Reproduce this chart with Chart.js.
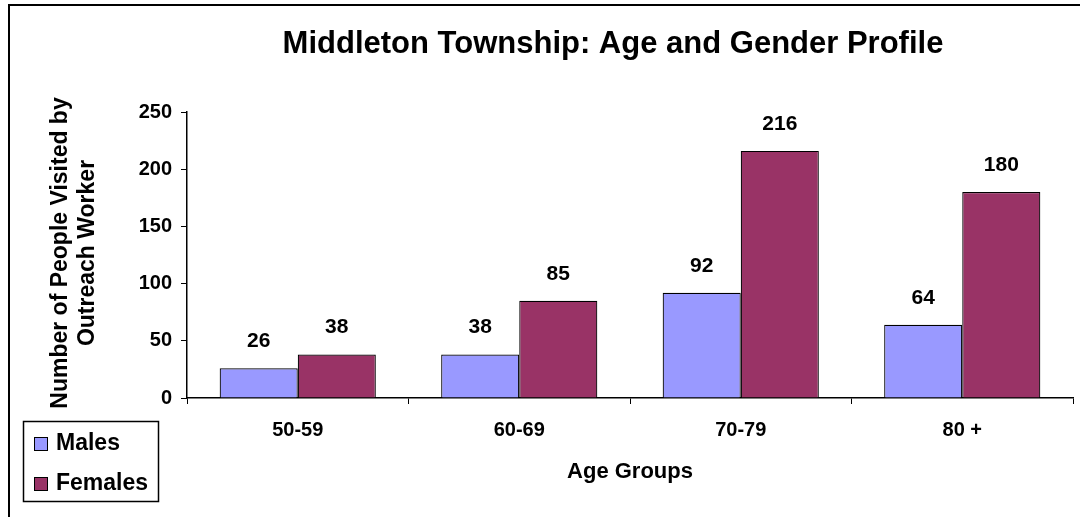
<!DOCTYPE html>
<html>
<head>
<meta charset="utf-8">
<script src="https://cdn.jsdelivr.net/npm/chart.js@4"></script>
<style>
  html, body { margin: 0; padding: 0; background: #fff; }
  #wrap { width: 1080px; height: 517px; position: relative; }
</style>
</head>
<body>
<div id="wrap"><canvas id="chart" width="1080" height="517"></canvas></div>
<script>
// data
const ageGroups = ["50-59", "60-69", "70-79", "80 +"];
const males = [26, 38, 92, 64];
const females = [38, 85, 216, 180];
const seriesNames = ["Males", "Females"];
const seriesColors = ["#9999FF", "#993366"];

const FONT = "'Liberation Sans', Arial, sans-serif";

// draws frame, title, axis titles, value labels and the boxed legend
const decorations = {
  id: "decorations",
  afterDraw(chart) {
    const ctx = chart.ctx;
    const area = chart.chartArea;
    ctx.save();

    // outer frame
    ctx.strokeStyle = "#000";
    ctx.lineWidth = 2;
    ctx.strokeRect(9, 5, 1090, 530);

    ctx.fillStyle = "#000";
    ctx.textAlign = "center";
    ctx.textBaseline = "middle";

    // title
    ctx.font = `bold 31px ${FONT}`;
    ctx.fillText("Middleton Township: Age and Gender Profile", 613, 44);

    // x title
    ctx.font = `bold 22px ${FONT}`;
    ctx.fillText("Age Groups", (area.left + area.right) / 2, 472);

    // y title, two lines
    ctx.save();
    ctx.translate(61, 253);
    ctx.rotate(-Math.PI / 2);
    ctx.font = `bold 23px ${FONT}`;
    ctx.fillText("Number of People Visited by", 0, 0);
    ctx.fillText("Outreach Worker", 0, 27);
    ctx.restore();

    // value labels over the bars
    ctx.font = `bold 21px ${FONT}`;
    chart.data.datasets.forEach((ds, i) => {
      chart.getDatasetMeta(i).data.forEach((bar, j) => {
        ctx.fillText(String(ds.data[j]), bar.x, bar.y - 27);
      });
    });

    // legend box
    ctx.lineWidth = 1.5;
    ctx.strokeRect(23.5, 421.5, 135, 80);
    ctx.textAlign = "left";
    ctx.font = `bold 23px ${FONT}`;
    const rows = [443, 483];
    seriesNames.forEach((name, i) => {
      ctx.fillStyle = seriesColors[i];
      ctx.fillRect(34, rows[i] - 6, 13, 13);
      ctx.strokeStyle = "#000";
      ctx.lineWidth = 1;
      ctx.strokeRect(34.5, rows[i] - 5.5, 13, 13);
      ctx.fillStyle = "#000";
      ctx.fillText(name, 56, rows[i] + 1);
    });

    ctx.restore();
  }
};

new Chart(document.getElementById("chart"), {
  type: "bar",
  data: {
    labels: ageGroups,
    datasets: [
      { label: seriesNames[0], data: males, backgroundColor: seriesColors[0], borderColor: "#000", borderWidth: 1.2 },
      { label: seriesNames[1], data: females, backgroundColor: seriesColors[1], borderColor: "#000", borderWidth: 1.2 }
    ]
  },
  options: {
    responsive: false,
    animation: false,
    events: [],
    layout: { padding: { left: 0, right: 7, top: 112, bottom: 0 } },
    datasets: { bar: { categoryPercentage: 0.705, barPercentage: 1.0 } },
    plugins: { legend: { display: false }, title: { display: false }, tooltip: { enabled: false } },
    scales: {
      x: {
        afterFit: (s) => { s.height = 119; },
        grid: { display: true, drawOnChartArea: false, drawTicks: true, tickLength: 6, color: "#000", offset: true },
        border: { display: true, color: "#000", width: 1.5 },
        ticks: { color: "#000", font: { family: FONT, size: 20, weight: "bold" }, padding: 14, maxRotation: 0 }
      },
      y: {
        min: 0, max: 250,
        afterFit: (s) => { s.width = 187; },
        grid: { display: true, drawOnChartArea: false, drawTicks: true, tickLength: 6, color: "#000" },
        border: { display: true, color: "#000", width: 1.5 },
        ticks: { stepSize: 50, color: "#000", font: { family: FONT, size: 20, weight: "bold" }, padding: 9 }
      }
    }
  },
  plugins: [decorations]
});
</script>
</body>
</html>
